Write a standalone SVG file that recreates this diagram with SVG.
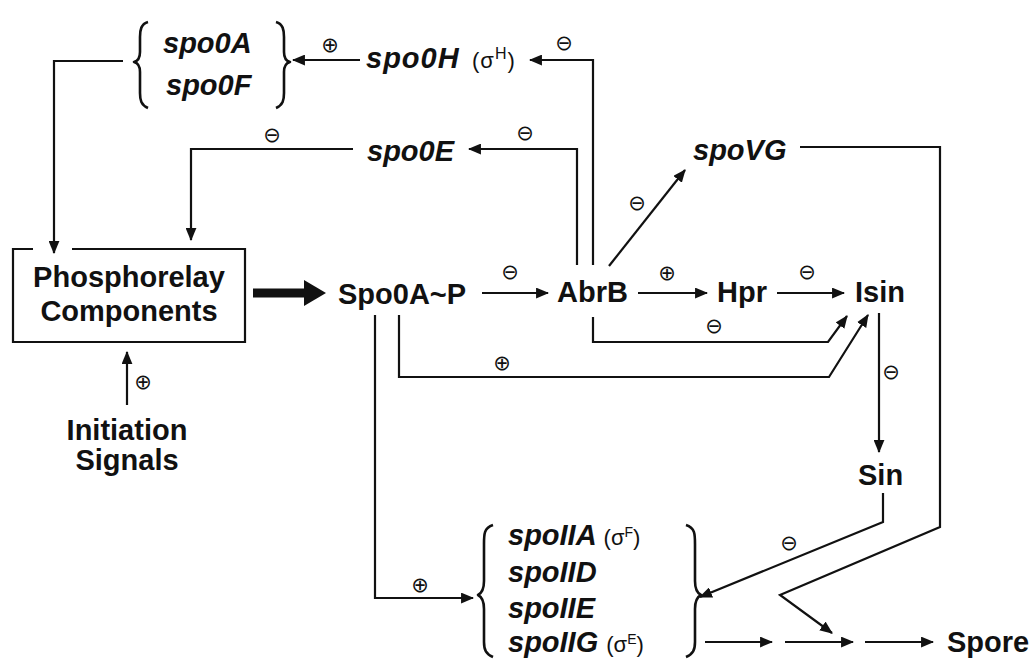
<svg xmlns="http://www.w3.org/2000/svg" width="1035" height="659" viewBox="0 0 1035 659">
<style>
.t{font-family:"Liberation Sans",Arial,sans-serif;font-weight:bold;font-size:29px;fill:#111}
.g{font-style:italic}
.s{font-family:"Liberation Sans",Arial,sans-serif;font-weight:normal;font-style:normal;font-size:22px;fill:#111}
.sym{font-family:"DejaVu Sans",sans-serif;font-size:21px;fill:#111;text-anchor:middle;dominant-baseline:central}
.ln{fill:none;stroke:#111;stroke-width:2.2}
.br{fill:none;stroke:#111;stroke-width:2.6;stroke-linejoin:round}
</style>
<defs>
<marker id="ah" viewBox="0 0 12 10" refX="11" refY="5" markerWidth="13" markerHeight="11" markerUnits="userSpaceOnUse" orient="auto"><path d="M0,0 L12,5 L0,10 z" fill="#111"/></marker>
</defs>
<rect width="1035" height="659" fill="#fff"/>

<g id="spo0AF">
<path class="br" d="M148,22 C141,24 140,30 140,37 L140,52 C140,58 138,61 134,62 C138,63 140,66 140,72 L140,93 C140,100 141,105 148,108"/>
<path class="br" d="M276,22 C283,24 284,30 284,37 L284,52 C284,58 286,61 290,62 C286,63 284,66 284,72 L284,93 C284,100 283,105 276,108"/>
<text class="t g" x="163" y="53">spo0A</text>
<text class="t g" x="166" y="95">spo0F</text>
</g>
<g id="spo0H">
<text class="t g" x="366" y="68" letter-spacing="1">spo0H</text>
<text class="s" x="472" y="68" font-size="24" letter-spacing="1">(σ<tspan font-size="16" dy="-9">H</tspan><tspan dy="9">)</tspan></text>
</g>
<g id="spo0E"><text class="t g" x="367" y="161">spo0E</text></g>
<g id="spoVG"><text class="t g" x="693" y="160" font-size="30">spoVG</text></g>
<g id="phosphorelay">
<path class="ln" d="M33,249 L13,249 L13,342 L245,342 L245,249 L72,249"/>
<text class="t" x="129" y="287" text-anchor="middle" font-size="30">Phosphorelay</text>
<text class="t" x="129" y="321" text-anchor="middle" font-size="30">Components</text>
</g>
<g id="initiation">
<text class="t" x="127" y="440" text-anchor="middle" font-size="30">Initiation</text>
<text class="t" x="127" y="470" text-anchor="middle" font-size="30">Signals</text>
</g>
<g id="spo0AP"><text class="t" x="338" y="304" font-size="30">Spo0A~P</text></g>
<g id="abrB"><text class="t" x="557" y="302">AbrB</text></g>
<g id="hpr"><text class="t" x="717" y="302">Hpr</text></g>
<g id="isin"><text class="t" x="855" y="302">Isin</text></g>
<g id="sin"><text class="t" x="858" y="485">Sin</text></g>
<g id="spoII">
<path class="br" d="M493,525 C484,528 484,534 484,544 L484,581 C484,589 482,593 478,595 C482,597 484,601 484,609 L484,642 C484,650 486,654 493,657"/>
<path class="br" d="M686,525 C695,528 695,534 695,544 L695,581 C695,589 697,593 701,595 C697,597 695,601 695,609 L695,642 C695,650 693,654 686,657"/>
<text class="t g" x="508" y="545" font-size="26">spoIIA <tspan class="s" font-size="21">(σ<tspan font-size="14" dy="-8">F</tspan><tspan dy="8">)</tspan></tspan></text>
<text class="t g" x="508" y="582" font-size="26">spoIID</text>
<text class="t g" x="508" y="618" font-size="26">spoIIE</text>
<text class="t g" x="508" y="652" font-size="26">spoIIG <tspan class="s" font-size="21">(σ<tspan font-size="14" dy="-8">E</tspan><tspan dy="8">)</tspan></tspan></text>
</g>
<g id="spore"><text class="t" x="947" y="652">Spore</text></g>

<g id="connectors">
<path class="ln" d="M123,61 L54,61 L54,253" marker-end="url(#ah)"/>
<path class="ln" d="M360,60 L293,60" marker-end="url(#ah)"/>
<path class="ln" d="M593,265 L593,60 L530,60" marker-end="url(#ah)"/>
<path class="ln" d="M577,265 L577,149 L469,149" marker-end="url(#ah)"/>
<path class="ln" d="M353,149 L191,149 L191,240" marker-end="url(#ah)"/>
<path class="ln" d="M609,266 L685,170" marker-end="url(#ah)"/>
<path class="ln" d="M127,405 L127,352" marker-end="url(#ah)"/>
<line x1="253" y1="293" x2="308" y2="293" stroke="#111" stroke-width="9"/>
<polygon points="304,280 326,293 304,306" fill="#111"/>
<path class="ln" d="M482,293 L548,293" marker-end="url(#ah)"/>
<path class="ln" d="M638,293 L707,293" marker-end="url(#ah)"/>
<path class="ln" d="M777,293 L844,293" marker-end="url(#ah)"/>
<path class="ln" d="M593,317 L593,342 L828,342 L847,316" marker-end="url(#ah)"/>
<path class="ln" d="M399,315 L399,377 L829,377 L868,315" marker-end="url(#ah)"/>
<path class="ln" d="M375,315 L375,598 L473,598" marker-end="url(#ah)"/>
<path class="ln" d="M879,313 L879,452" marker-end="url(#ah)"/>
<path class="ln" d="M883,493 L883,522 L700,597" marker-end="url(#ah)"/>
<path class="ln" d="M800,147 L940,147 L940,527 L780,595 L832,633" marker-end="url(#ah)"/>
<path class="ln" d="M705,642 L772,642" marker-end="url(#ah)"/>
<path class="ln" d="M785,642 L853,642" marker-end="url(#ah)"/>
<path class="ln" d="M865,642 L933,642" marker-end="url(#ah)"/>
</g>
<g id="edge-signs">
<text class="sym" x="330" y="45">⊕</text>
<text class="sym" x="564" y="43">⊖</text>
<text class="sym" x="272" y="135">⊖</text>
<text class="sym" x="525" y="133">⊖</text>
<text class="sym" x="637" y="203">⊖</text>
<text class="sym" x="510" y="272">⊖</text>
<text class="sym" x="667" y="273">⊕</text>
<text class="sym" x="807" y="272">⊖</text>
<text class="sym" x="714" y="326">⊖</text>
<text class="sym" x="502" y="363">⊕</text>
<text class="sym" x="891" y="372">⊖</text>
<text class="sym" x="143" y="382">⊕</text>
<text class="sym" x="420" y="585">⊕</text>
<text class="sym" x="789" y="543">⊖</text>
</g>
</svg>
